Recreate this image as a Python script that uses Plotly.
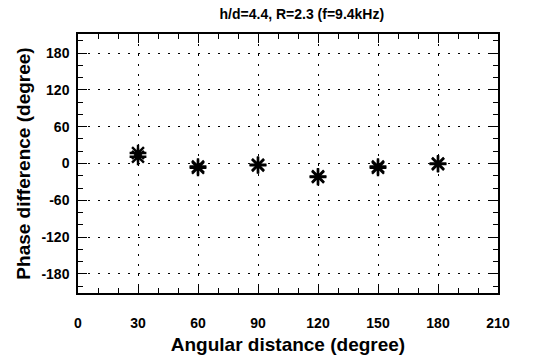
import plotly.graph_objects as go

angles = [30, 60, 90, 120, 150, 180]
phase_a = [17, -5, -2, -22, -5, -1]
phase_b = [11, -7, -3, -21, -7, 0]
x_ticks = [0, 30, 60, 90, 120, 150, 180, 210]
y_ticks = [-180, -120, -60, 0, 60, 120, 180]
y_tick_labels = ["-180", "-120", "-60", "0", "60", "120", "180"]

fig = go.Figure()
for ys in (phase_a, phase_b):
    fig.add_trace(go.Scatter(
        x=angles, y=ys, mode="markers",
        marker=dict(symbol="asterisk-open", size=14, color="black",
                    line=dict(color="black", width=2.4)),
        showlegend=False))

font = "Arial, Liberation Sans, sans-serif"
axis_common = dict(
    showline=True, linecolor="black", linewidth=1.5, mirror="allticks",
    ticks="inside", ticklen=9, tickwidth=1, tickcolor="black",
    showgrid=True, gridcolor="black", gridwidth=1, griddash="2px,8px",
    zeroline=False, automargin=False,
    tickfont=dict(family=font, size=14, color="black", weight="bold"),
)
fig.update_xaxes(range=[0, 210], tickvals=x_ticks,
                 minor=dict(dtick=10, ticks="inside", ticklen=5, tickcolor="black", showgrid=False),
                 ticklabelstandoff=16,
                 title=dict(text="Angular distance (degree)", standoff=8,
                            font=dict(family=font, size=19, color="black", weight="bold")),
                 **axis_common)
fig.update_yaxes(range=[-211, 211], tickvals=y_ticks, ticktext=y_tick_labels,
                 minor=dict(dtick=20, ticks="inside", ticklen=5, tickcolor="black", showgrid=False),
                 ticklabelstandoff=4,
                 title=dict(text="Phase difference (degree)", standoff=6,
                            font=dict(family=font, size=19, color="black", weight="bold")),
                 **axis_common)
fig.update_layout(
    width=539, height=361,
    margin=dict(l=78, r=41, t=34, b=68),
    paper_bgcolor="white", plot_bgcolor="white",
    title=dict(text="h/d=4.4, R=2.3 (f=9.4kHz)", x=0.56, xanchor="center", y=0.96, yanchor="middle",
               font=dict(family=font, size=14, color="black", weight="bold")),
)
fig.write_html("out.html", config={"displayModeBar": False},
               post_script="document.body.style.margin='0px';")
